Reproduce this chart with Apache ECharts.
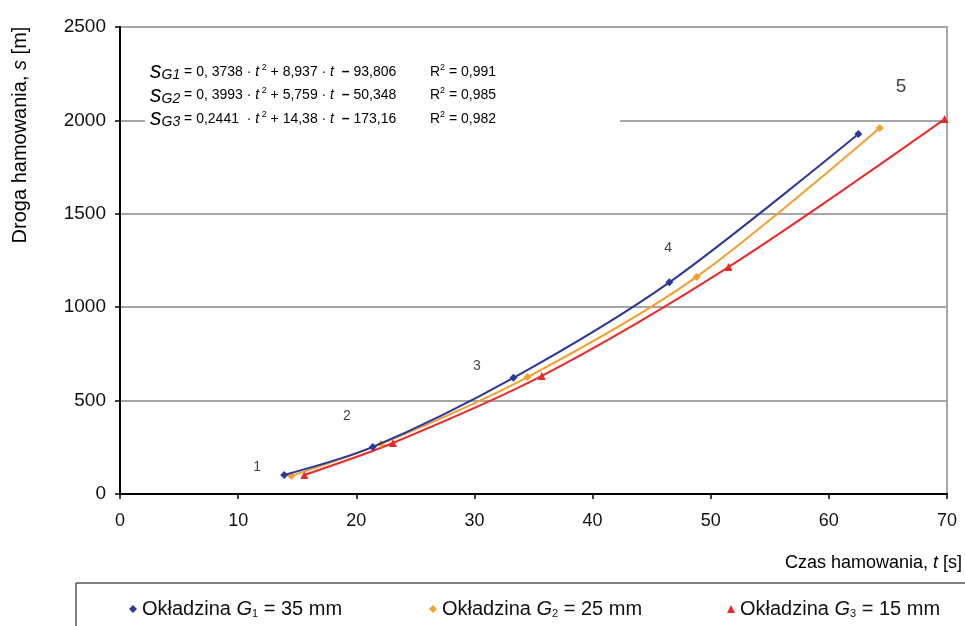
<!DOCTYPE html>
<html>
<head>
<meta charset="utf-8">
<script src="https://cdn.jsdelivr.net/npm/echarts@6/dist/echarts.min.js"></script>
<style>html,body{margin:0;padding:0;background:#fff}#c{width:965px;height:626px}</style>
</head>
<body>
<div id="c"></div>
<script>
// ---- data ----
const seriesKeys = ['G1', 'G2', 'G3'];
const legendThickness = ['35', '25', '15'];
const tG1 = [13.9, 21.4, 33.3, 46.5, 62.5];
const sG1 = [102, 252, 622, 1133, 1927];
const tG2 = [14.5, 22.1, 34.5, 48.8, 64.3];
const sG2 = [97, 268, 626, 1162, 1959];
const tG3 = [15.6, 23.1, 35.7, 51.5, 69.8];
const sG3 = [102, 273, 632, 1215, 2007];
const pointLabels = ['1', '2', '3', '4', '5'];
const pointLabelT = [11.6, 19.2, 30.2, 46.4, 66.1];
const pointLabelS = [145, 418, 685, 1317, 2179];
const xTicks = [0, 10, 20, 30, 40, 50, 60, 70];
const yTicks = [0, 500, 1000, 1500, 2000, 2500];
const equations = [
  {k: '1', a: '0, 3738', b: '8,937', c: '93,806', r2: '0,991'},
  {k: '2', a: '0, 3993', b: '5,759', c: '50,348', r2: '0,985'},
  {k: '3', a: '0,2441 ', b: '14,38', c: '173,16', r2: '0,982'}
];

const colors = ['#2b3a98', '#f49f2e', '#ec2a2a'];
const symbols = ['diamond', 'diamond', 'triangle'];
const FONT = '"Liberation Sans", Arial, sans-serif';
const NARROW = '"Liberation Sans Narrow", "Liberation Sans", Arial, sans-serif';

function pairs(t, s) { return t.map((v, i) => [v, s[i]]); }
const allData = [pairs(tG1, sG1), pairs(tG2, sG2), pairs(tG3, sG3)];

const chart = echarts.init(document.getElementById('c'), null, {renderer: 'canvas'});

const series = seriesKeys.map((k, i) => ({
  name: k,
  type: 'line',
  data: allData[i],
  smooth: 0.3,
  symbol: symbols[i],
  symbolSize: 8,
  showSymbol: true,
  lineStyle: {color: colors[i], width: 2},
  itemStyle: {color: colors[i]},
  z: 3 + (2 - i)
}));

series.push({
  name: 'labels',
  type: 'scatter',
  data: pointLabelT.map((t, i) => ({value: [t, pointLabelS[i]], label: {
    fontSize: i === 4 ? 19 : 14
  }})),
  symbolSize: 0,
  silent: true,
  label: {
    show: true,
    position: 'inside',
    color: '#111',
    fontFamily: FONT,
    fontSize: 14,
    formatter: p => pointLabels[p.dataIndex]
  },
  z: 10
});

const legendRich = {
  a: {fontSize: 20, fontFamily: FONT, color: '#111'},
  i: {fontSize: 20, fontFamily: FONT, fontStyle: 'italic', color: '#111'},
  s: {fontSize: 11, fontFamily: FONT, color: '#111', verticalAlign: 'bottom', padding: [9, 0, 0, 0]}
};
const legendLefts = [124, 424, 722];
const legends = seriesKeys.map((k, i) => ({
  data: [{name: k, icon: symbols[i] === 'triangle' ? 'triangle' : 'diamond'}],
  left: legendLefts[i],
  top: 594,
  itemWidth: 8,
  itemHeight: 8,
  itemGap: 0,
  formatter: () => '{a|Okładzina }{i|G}{s|' + (i + 1) + '}{a| = ' + legendThickness[i] + ' mm}',
  textStyle: {rich: legendRich, fontSize: 20}
}));

const eqRich = {
  s: {fontSize: 23, fontFamily: FONT, fontStyle: 'italic', color: '#111'},
  g: {fontSize: 14, fontFamily: FONT, fontStyle: 'italic', color: '#111', padding: [7, 0, 0, 0]},
  n: {fontSize: 14, fontFamily: FONT, color: '#111'},
  t: {fontSize: 14, fontFamily: FONT, fontStyle: 'italic', color: '#111'},
  p: {fontSize: 9, fontFamily: FONT, color: '#111', padding: [0, 0, 9, 0]},
  m: {fontSize: 14, fontFamily: FONT, fontWeight: 'bold', color: '#111'}
};
const graphics = [
  {type: 'rect', shape: {x: 145, y: 52, width: 475, height: 78}, style: {fill: '#fff'}, z: 1},
  {type: 'rect', shape: {x: 76, y: 583, width: 1000, height: 100}, style: {fill: 'none', stroke: '#000', lineWidth: 1}, z: 1},
  {type: 'text', x: 20, y: 135, rotation: Math.PI / 2, z: 5,
    style: {text: '{a|Droga hamowania, }{i|s}{a| [m]}', align: 'center', verticalAlign: 'middle',
      rich: {a: {fontSize: 20, fontFamily: FONT, color: '#111'}, i: {fontSize: 20, fontFamily: FONT, fontStyle: 'italic', color: '#111'}}}},
  {type: 'text', x: 962, y: 563, z: 5,
    style: {text: '{a|Czas hamowania, }{i|t}{a| [s]}', align: 'right', verticalAlign: 'middle',
      rich: {a: {fontSize: 18, fontFamily: NARROW, color: '#111'}, i: {fontSize: 18, fontFamily: NARROW, fontStyle: 'italic', color: '#111'}}}}
];
equations.forEach((e, i) => {
  const y = 72 + i * 23.5;
  graphics.push({type: 'text', x: 150, y: y, z: 5, style: {
    text: '{s|s}{g|G' + e.k + '}{n| = ' + e.a + ' · }{t|t}{p| 2}{n| + ' + e.b + ' · }{t|t}{n|  }{m|–}{n| ' + e.c + '}',
    verticalAlign: 'middle', rich: eqRich}});
  graphics.push({type: 'text', x: 430, y: y, z: 5, style: {
    text: '{n|R}{p|2}{n| = ' + e.r2 + '}', verticalAlign: 'middle', rich: eqRich}});
});

chart.setOption({
  animation: false,
  backgroundColor: '#fff',
  grid: {left: 120, right: 18, top: 27, bottom: 132, containLabel: false},
  xAxis: {
    type: 'value', min: xTicks[0], max: xTicks[xTicks.length - 1], interval: 10,
    axisLine: {show: true, lineStyle: {color: '#000', width: 2}},
    axisTick: {show: true, length: 5, lineStyle: {color: '#000', width: 1.5}},
    axisLabel: {fontSize: 18, fontFamily: NARROW, color: '#111', margin: 18},
    splitLine: {show: false}
  },
  yAxis: [{
    type: 'value', min: yTicks[0], max: yTicks[yTicks.length - 1], interval: 500,
    axisLine: {show: true, lineStyle: {color: '#000', width: 2}},
    axisTick: {show: true, length: 5, lineStyle: {color: '#000', width: 1.5}},
    axisLabel: {fontSize: 19, fontFamily: FONT, color: '#111', margin: 14, formatter: v => String(v)},
    splitLine: {show: true, lineStyle: {color: '#a6a6a6', width: 2}}
  }, {
    type: 'value', position: 'right', min: 0, max: 2500, interval: 500,
    axisLine: {show: true, lineStyle: {color: '#a6a6a6', width: 2}},
    axisTick: {show: false}, axisLabel: {show: false}, splitLine: {show: false}
  }],
  legend: legends,
  graphic: graphics,
  series: series
});
</script>
</body>
</html>
